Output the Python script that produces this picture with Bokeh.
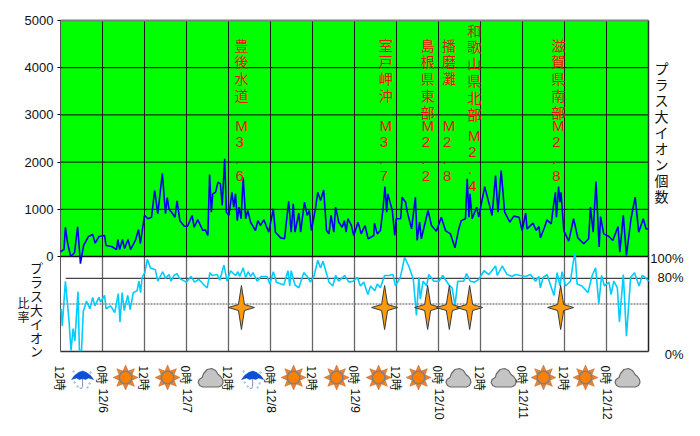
import math
from bokeh.plotting import figure
from bokeh.models import Range1d, LinearAxis, FixedTicker
from bokeh.core.properties import value
from bokeh.embed import file_html
from bokeh.resources import INLINE

ion_hours = [0,1,1.4,2,2.9,4,4.9,5.7,6.6,8,9.2,9.9,11,12.6,13,14.6,16,16.4,16.9,17.7,18.3,19.3,20,21.4,22.3,22.8,24,25,26,26.9,27.8,29.1,30,30.5,31,32,32.7,33.3,34.1,35.4,36.3,37.6,38.2,39.2,40.7,41.4,42.1,42.6,43.1,43.5,44.3,45,45.7,46.2,46.9,47.4,48.1,49,49.5,50,50.5,51,51.6,52.2,52.9,53.5,54.3,55.7,56.4,57.1,58.1,59.5,60.8,61.4,62.9,64,65.2,65.9,66.5,67,68.1,68.6,69.7,70.5,71.1,71.7,72.9,73.5,74.3,75.2,76,76.7,77.3,78.1,78.6,79.5,80.5,81.1,81.6,82.1,83.1,83.8,85,85.9,87,87.9,89.5,89.7,90.5,91.4,92.1,92.7,93.2,93.5,94.8,95.5,95.9,97.2,97.6,98.6,99.1,100.3,101.4,101.9,102.6,103.1,105,106,107.4,108.8,110,111.4,112.7,113.8,114.5,115.7,116.2,116.7,117,117.6,118.9,119.5,121.2,122.7,123.3,124.3,125,125.9,126.9,128.4,129.5,131,131.9,132.9,133.3,135,135.9,136.7,137.1,138.3,139,140.2,140.8,141.4,141.7,142.3,142.7,143,143.8,145.2,146.6,147.8,149.5,150.9,151.4,152.2,153,153.9,154.3,155.2,156.7,157.8,159.3,159.8,160.8,161.7,163,164.2,165.2,166.5,167.3,167.8]
ion_counts = [100,150,620,300,0,80,630,-150,233,424,466,282,424,445,233,212,148,360,148,360,170,360,148,340,570,270,870,800,830,1400,910,1760,910,1250,1000,910,830,1180,760,640,640,870,620,780,550,565,445,1737,940,1327,1360,1575,1540,1080,2070,940,870,1360,1045,1327,760,1045,800,1680,800,975,727,550,760,657,776,515,1010,515,395,375,1170,515,1115,515,920,515,1150,870,975,550,1045,1360,1186,1410,550,480,870,515,1045,727,620,760,515,800,657,445,727,480,657,375,445,706,480,550,975,1480,940,1327,975,445,800,800,1257,1150,940,586,1257,340,727,375,975,657,537,833,550,480,184,586,760,800,1645,833,1327,800,1045,833,1480,1045,870,1715,940,1820,940,727,855,833,550,918,586,706,550,635,395,620,776,692,1045,1360,833,1480,1150,1360,550,325,800,395,270,375,1045,515,1590,200,847,480,424,340,635,92,870,21,800,1257,515,800,586,586]

ratio_hours = [0.2,0.5,1.4,2.4,3,3.6,4.1,5,5.4,6,6.5,7.4,8.4,9.2,9.8,11,11.4,12.6,13,14.3,15.5,16.5,17,17.6,18.2,19.2,19.9,20.8,21.9,22.4,22.9,23.3,24.1,24.8,25.7,27.1,27.8,29.2,30,31,31.6,32.4,33.3,34,35.9,37.3,38.3,39.5,41,41.9,42.7,43.3,44.8,45.5,46.7,47.6,48.6,50,50.7,51.2,52.2,52.9,53.6,54.3,55,56.2,57.3,59,59.8,60.8,61.7,63.8,65,65.5,65.9,67,68.1,69.5,70.5,71.4,72.4,73.5,74.3,75,76.7,77.8,78.6,79.5,81.2,82.4,83.6,84.8,85.7,86.7,87.8,88.6,89.8,90.5,91.4,92.6,93.8,95,95.7,97.1,98.3,99.5,100.8,101.7,102.4,102.8,103.6,104.6,105.2,106.7,108.1,109.2,111,111.9,112.7,113.5,115.2,116,117.1,118.3,119.5,121,122.4,124.3,124.8,126.2,127.6,129,130,131.4,132.9,134.3,135.7,136.7,137.1,137.9,139,140,141,141.9,142.7,143.3,144.3,145.7,146.5,147,147.6,149,150.7,151.9,152.9,153.8,154.6,155.4,156.7,157.3,158.1,159.1,159.7,160.8,161.7,162.9,164,165.3,166.2,167.1,168]
ratio_values = [45,27,74,34,1,24,11,63,1,1,42,53,45,57,48,57,52,59,45,48,41,61,31,62,43,59,44,62,64,74,62,78,83,97,88,86,74,84,77,81,74,80,82,77,73,79,73,76,70,67,83,80,81,75,91,74,85,80,84,79,88,78,84,79,83,74,79,79,71,84,73,70,85,69,85,70,67,83,79,73,79,96,88,95,73,69,80,74,80,73,74,78,69,73,60,69,64,71,67,80,80,81,69,78,99,90,76,38,78,55,74,69,81,74,74,80,70,67,48,74,74,82,74,73,76,85,81,90,80,90,81,79,81,80,79,81,74,79,67,78,81,70,59,83,69,84,69,74,94,104,71,69,62,80,88,50,80,69,73,60,74,67,31,81,16,78,83,69,80,78,74]

count_ticks = [0,1000,2000,3000,4000,5000]
ratio_grid = [77,50]
ratio_top = 100
ratio_labels = ["100%","80%","0%"]
time_ticks = list(range(0,157,12))
time_labels = {h:("12時" if h%24==0 else "0時") for h in time_ticks}
date_ticks = [12,36,60,84,108,132,156]
date_labels = ["12/6","12/7","12/8","12/9","12/10","12/11","12/12"]
weather_hours = [6.3,18.6,30.6,42.9,54.9,66.6,78.9,90.9,102.3,113.7,126.6,138,150,162]
weather = ["rain","sun","sun","cloud","rain","sun","sun","sun","sun","cloud","cloud","sun","sun","cloud"]
eq_names = ["豊後水道","室戸岬沖","島根県東部","播磨灘","和歌山県北部","滋賀県南部"]
eq_mags = ["M3.6","M3.7","M2.2","M2.8","M2.4","M2.8"]
eq_label_hours = [51.7,92.9,104.9,111,118.2,142.2]
star_hours = [51.7,92.6,104.9,111.1,116.9,142.9]

PX_H = 3.5      # pixels per hour
PX_C = 0.0472   # pixels per ion count
PX_R = 0.95     # pixels per percent
W, H = 692, 428
def Xh(px): return (px-60)/PX_H
def Yc(py): return (256-py)/PX_C
def Yr(py): return (351-py)/PX_R

p = figure(width=W, height=H, output_backend="svg", toolbar_location=None,
           x_range=Range1d(Xh(0),Xh(W)), y_range=Range1d(Yc(H),Yc(0)),
           x_axis_type=None, y_axis_type=None,
           min_border_left=0, min_border_right=0, min_border_top=0, min_border_bottom=0,
           background_fill_color="white", outline_line_color=None)
p.extra_y_ranges = {"ratio": Range1d(Yr(H),Yr(0))}
p.xgrid.visible=False; p.ygrid.visible=False

ax = LinearAxis(ticker=FixedTicker(ticks=count_ticks), fixed_location=0)
ax.axis_line_color=None; ax.major_tick_out=3; ax.major_tick_in=0; ax.minor_tick_line_color=None
ax.major_label_text_font="Liberation Sans"; ax.major_label_text_font_size="13px"
ax.major_label_text_color="#111111"; ax.major_label_standoff=4
p.add_layout(ax,"left")

tx = LinearAxis(ticker=FixedTicker(ticks=time_ticks), major_label_overrides=time_labels,
                fixed_location=Yc(355))
tx.axis_line_color=None; tx.major_tick_line_color=None; tx.minor_tick_line_color=None
tx.major_label_orientation="vertical"; tx.major_label_standoff=4
tx.major_label_text_font="Noto Sans CJK JP"; tx.major_label_text_font_size="12px"; tx.major_label_text_color="#111111"
p.add_layout(tx,"below")

dx = LinearAxis(ticker=FixedTicker(ticks=date_ticks), major_label_overrides=dict(zip(date_ticks,date_labels)),
                fixed_location=Yc(378))
dx.axis_line_color=None; dx.major_tick_line_color=None; dx.minor_tick_line_color=None
dx.major_label_orientation="vertical"; dx.major_label_standoff=4
dx.major_label_text_font="Liberation Sans"; dx.major_label_text_font_size="12.5px"; dx.major_label_text_color="#111111"
p.add_layout(dx,"below")

# green panel and grid
p.quad(left=0,right=168,bottom=0,top=5000,fill_color="#00ff00",line_color=None)
for c in count_ticks[1:-1]:
    p.line([0,168],[c,c],line_color="#000000",line_width=1)
grid_h = list(range(12,168,12))
p.segment(grid_h,[0]*len(grid_h),grid_h,[5000]*len(grid_h),line_color="#1a1a1a",line_width=1)
p.segment(grid_h,[0]*len(grid_h),grid_h,[ratio_top]*len(grid_h),line_color="#666666",line_width=1.3,y_range_name="ratio")
p.line([1.5,168],[ratio_grid[0]]*2,line_color="#444444",line_width=1.2,y_range_name="ratio")
p.line([0,168],[ratio_grid[1]]*2,line_color="#888888",line_width=1.4,line_dash="2 1",y_range_name="ratio")
# frame
p.line([0,168],[5000,5000],line_color="#808080",line_width=2)
p.line([0,168],[0,0],line_color="#111111",line_width=1.5)
p.line([0,168],[0,0],line_color="#333333",line_width=1.5,y_range_name="ratio")
p.segment([0],[0],[0],[5000],line_color="#555555",line_width=1)
p.segment([0],[0],[0],[ratio_top],line_color="#555555",line_width=1,y_range_name="ratio")
p.segment([168],[0],[168],[5000],line_color="#333333",line_width=1.5)
p.segment([168],[0],[168],[ratio_top],line_color="#222222",line_width=1.5,y_range_name="ratio")

# series
p.line(ratio_hours,ratio_values,line_color="#00ccff",line_width=1.6,y_range_name="ratio")
p.line(ion_hours,ion_counts,line_color="#0000ee",line_width=1.6)

# stars
sp=[(0,-22),(3,-3),(13,0),(3,3),(0,22),(-3,3),(-13,0),(-3,-3)]
sx=[[h+a/PX_H for a,b in sp] for h in star_hours]
sy=[[Yr(307+b) for a,b in sp] for h in star_hours]
p.patches(sx,sy,fill_color="#ff9a0a",line_color="#3a3a3a",line_width=1,y_range_name="ratio")

# earthquake labels, one stacked character per row
rows_x,rows_y,rows_t=[],[],[]
mx,my,mt=[],[],[]
for name,mag,h in zip(eq_names,eq_mags,eq_label_hours):
    long_name=len(name)>5
    top=29 if long_name else 44
    pitch=16.8
    for i,ch in enumerate(name):
        rows_x.append(h); rows_y.append(Yc(top+i*pitch)); rows_t.append(ch)
    mtop=135 if long_name else 125
    for i,ch in enumerate(mag):
        off={0:0,1:-0.5,2:-1.2,3:-0.5}[i]
        mx.append(h+off); my.append(Yc(mtop+i*16.8)); mt.append(ch)
p.text(rows_x,rows_y,text=rows_t,text_align="center",text_baseline="middle",text_color="#f01010",
       text_font=value("Noto Sans CJK JP"),text_font_size="14px")
p.text(mx,my,text=mt,text_align="center",text_baseline="middle",text_color="#f01010",
       text_font=value("Liberation Sans"),text_font_size="15px")

# weather icons
ICON_PY=377
def poly(h,pts):
    return [h+a/PX_H for a,b in pts],[Yc(ICON_PY+b) for a,b in pts]
def circ(r,n=24):
    return [(r*math.cos(2*math.pi*i/n),r*math.sin(2*math.pi*i/n)) for i in range(n)]
sun_spikes=[]
for i in range(16):
    r=12.5 if i%2==0 else 7
    t=2*math.pi*i/16
    sun_spikes.append((r*math.cos(t),r*math.sin(t)))
cloud=[(-11,8),(-12.5,5),(-11.5,2),(-8.5,0),(-7,-4),(-3.5,-8),(1,-9),(5,-7),(7.5,-3),(10,-1),(12,2),(12.5,5),(11,8),(8,9.5),(-8,9.5)]
canopy=[(-11,2),(-8,-2),(-4,-5),(0,-6.5),(4,-5),(8,-2),(11,2),(6,0.5),(3,2),(0,1),(-3,2),(-6,0.5)]
for h,w in zip(weather_hours,weather):
    if w=="sun":
        x,y=poly(h,sun_spikes); p.patch(x,y,fill_color="#ee8030",line_color="#b06a30",line_width=0.5)
        x,y=poly(h,circ(7)); p.patch(x,y,fill_color="#808080",line_color=None)
        x,y=poly(h,circ(5.4)); p.patch(x,y,fill_color="#ff8000",line_color=None)
    elif w=="cloud":
        x,y=poly(h,cloud); p.patch(x,y,fill_color="#c4c4c4",line_color="#6a6a6a",line_width=1.2)
    else:
        x,y=poly(h,[(0,0),(0,9),(-1,11),(-3,10.5)]); p.line(x,y,line_color="#7f8fc0",line_width=1)
        x,y=poly(h,canopy); p.patch(x,y,fill_color="#0a50d8",line_color="#0a3aa0",line_width=0.5)
        x,y=poly(h,[(-8,5),(7,6),(-5,9),(5,10),(8,-5),(-9,-6)])
        p.scatter(x,y,size=1.6,color="#9fc8f0")

# side labels
def stack(chars,px,py0,pitch,size):
    p.text([Xh(px)]*len(chars),[Yc(py0+i*pitch) for i in range(len(chars))],text=list(chars),
           text_align="center",text_baseline="middle",text_font=value("Noto Sans CJK JP"),
           text_font_size=size,text_color="#111111")
stack("プラス大イオン個数",661,67,16,"14px")
stack("プラス大イオン",36,267,13.9,"13px")
stack("比率",23,302,14,"12px")
p.text([Xh(683)]*3,[Yc(py) for py in (258,277,354)],text=ratio_labels,text_align="right",text_baseline="middle",
       text_font=value("Liberation Sans"),text_font_size="13px",text_color="#111111")

open("out.html","w").write(file_html(p,INLINE))
